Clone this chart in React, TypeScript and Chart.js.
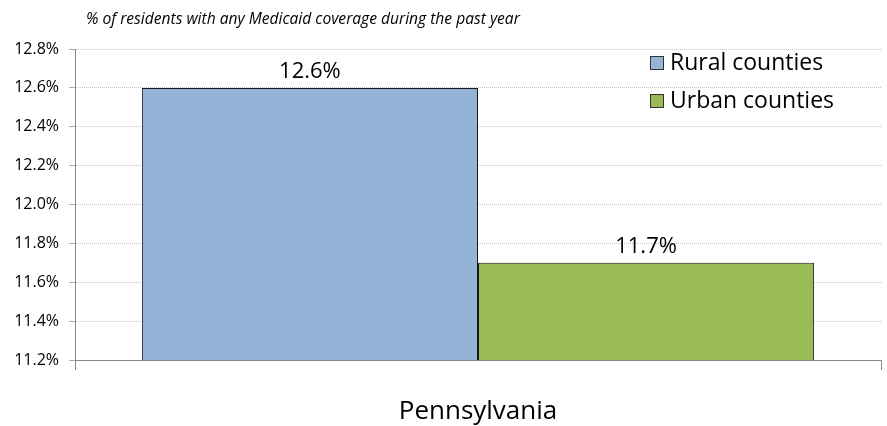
import React, { useEffect, useRef } from "react";
import { Chart, registerables } from "chart.js";

Chart.register(...registerables);

const categories = ["Pennsylvania"];
const seriesNames = ["Rural counties", "Urban counties"];
const ruralValues = [12.6];
const urbanValues = [11.7];
const seriesColors = ["#95B3D7", "#9BBB59"];
const yTicks = [11.2, 11.4, 11.6, 11.8, 12.0, 12.2, 12.4, 12.6, 12.8];
const titleText = "% of residents with any Medicaid coverage during the past year";

const FONT = "'Open Sans', 'DejaVu Sans', sans-serif";

const overlayPlugin = {
  id: "overlay",
  afterDatasetsDraw(chart: any) {
    const ctx = chart.ctx;
    ctx.save();
    // value labels
    chart.data.datasets.forEach((ds: any, di: number) => {
      const meta = chart.getDatasetMeta(di);
      meta.data.forEach((bar: any, i: number) => {
        ctx.font = `22px ${FONT}`;
        ctx.fillStyle = "#000";
        ctx.textAlign = "center";
        ctx.textBaseline = "alphabetic";
        ctx.fillText(ds.data[i].toFixed(1) + "%", bar.x, bar.y - 10);
      });
    });
    // title
    ctx.font = `italic 15.6px ${FONT}`;
    ctx.fillStyle = "#000";
    ctx.textAlign = "left";
    ctx.textBaseline = "middle";
    ctx.fillText(titleText, 86, 20);
    // legend
    chart.data.datasets.forEach((ds: any, di: number) => {
      const y = 56 + di * 38;
      ctx.fillStyle = ds.backgroundColor;
      ctx.fillRect(650, y, 14, 14);
      ctx.strokeStyle = "#333";
      ctx.lineWidth = 1;
      ctx.strokeRect(650.5, y + 0.5, 13, 13);
      ctx.fillStyle = "#000";
      ctx.font = `23px ${FONT}`;
      ctx.textAlign = "left";
      ctx.textBaseline = "middle";
      ctx.fillText(ds.label, 670, y + 7);
    });
    ctx.restore();
  },
};

export default function App() {
  const ref = useRef<HTMLCanvasElement>(null);
  useEffect(() => {
    if (!ref.current) return;
    const chart = new Chart(ref.current, {
      type: "bar",
      data: {
        labels: categories,
        datasets: [
          {
            label: seriesNames[0],
            data: ruralValues,
            backgroundColor: seriesColors[0],
            borderColor: "#1a1a1a",
            borderWidth: 1,
            categoryPercentage: 0.834,
            barPercentage: 1,
          },
          {
            label: seriesNames[1],
            data: urbanValues,
            backgroundColor: seriesColors[1],
            borderColor: "#1a1a1a",
            borderWidth: 1,
            categoryPercentage: 0.834,
            barPercentage: 1,
          },
        ],
      },
      options: {
        animation: false,
        responsive: false,
        maintainAspectRatio: false,
        layout: { padding: { top: 49, right: 6, left: 0, bottom: 0 } },
        plugins: {
          legend: { display: false },
          title: { display: false },
          tooltip: { enabled: false },
        },
        scales: {
          x: {
            offset: true,
            grid: {
              offset: true,
              drawOnChartArea: false,
              tickLength: 10,
              color: "#888",
              tickColor: "#888",
            },
            border: { color: "#888", width: 1 },
            ticks: {
              color: "#000",
              font: { family: FONT, size: 26 },
              padding: 26,
            },
            afterFit(scale: any) {
              scale.height = 66;
            },
          },
          y: {
            min: 11.2,
            max: 12.8,
            afterBuildTicks(scale: any) {
              scale.ticks = yTicks.map((v) => ({ value: v }));
            },
            grid: {
              color: "#c4c4c4",
              tickLength: 6,
              tickColor: "#aaa",
              tickBorderDash: [],
            },
            border: { color: "#888", width: 1, dash: [1, 1] },
            ticks: {
              color: "#000",
              font: { family: FONT, size: 16 },
              padding: 10,
              callback: (v: any) => Number(v).toFixed(1) + "%",
            },
            afterFit(scale: any) {
              scale.width = 75;
            },
          },
        },
      },
      plugins: [overlayPlugin],
    });
    return () => chart.destroy();
  }, []);
  return (
    <div style={{ position: "fixed", left: 0, top: 0, width: 887, height: 426, background: "#fff" }}>
      <canvas ref={ref} width={887} height={426} />
    </div>
  );
}
